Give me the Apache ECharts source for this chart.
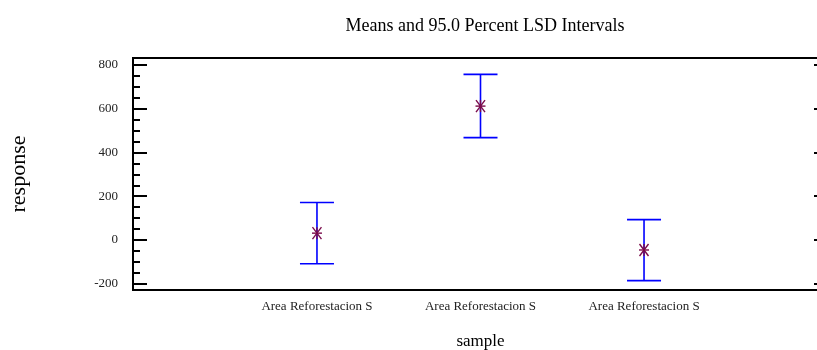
<!DOCTYPE html>
<html>
<head>
<meta charset="utf-8">
<script src="https://cdn.jsdelivr.net/npm/echarts@6/dist/echarts.min.js"></script>
<style>
  html, body { margin: 0; padding: 0; background: #fff; }
  #chart { width: 817px; height: 350px; }
</style>
</head>
<body>
<div id="chart"></div>
<script>
// Means and 95% LSD intervals, one per sample
const categories = ["Area Reforestacion S", "Area Reforestacion S", "Area Reforestacion S"];
const means = [31, 612, -46];
const lower = [-109, 468, -186];
const upper = [171, 757, 93];
const majorTicks = [-200, 0, 200, 400, 600, 800];
const minorTicks = [-200, -150, -100, -50, 0, 50, 100, 150, 200, 250, 300, 350, 400, 450, 500, 550, 600, 650, 700, 750, 800];

const FONT = "Liberation Serif";
const Y_MIN = -229, Y_MAX = 832;
const X_MIN = -0.125, X_MAX = 4.125;

const chart = echarts.init(document.getElementById("chart"), null, { renderer: "canvas" });

const rows = categories.map((c, i) => [i + 1, means[i], lower[i], upper[i]]);

function renderInterval(params, api) {
  const x = api.value(0);
  const top = api.coord([x, api.value(3)]);
  const bot = api.coord([x, api.value(2)]);
  const cap = 17;
  const style = { stroke: "#0000ff", lineWidth: 1.6 };
  return {
    type: "group",
    children: [
      { type: "line", shape: { x1: top[0], y1: top[1], x2: bot[0], y2: bot[1] }, style },
      { type: "line", shape: { x1: top[0] - cap, y1: top[1], x2: top[0] + cap, y2: top[1] }, style },
      { type: "line", shape: { x1: bot[0] - cap, y1: bot[1], x2: bot[0] + cap, y2: bot[1] }, style }
    ]
  };
}

function renderMean(params, api) {
  const p = api.coord([api.value(0), api.value(1)]);
  const style = { stroke: "#7a0a4a", lineWidth: 1.4 };
  const dx = 4.5, dy = 6;
  return {
    type: "group",
    children: [
      { type: "line", shape: { x1: p[0] - dx, y1: p[1] - dy, x2: p[0] + dx, y2: p[1] + dy }, style },
      { type: "line", shape: { x1: p[0] - dx, y1: p[1] + dy, x2: p[0] + dx, y2: p[1] - dy }, style },
      { type: "line", shape: { x1: p[0] - 5, y1: p[1], x2: p[0] + 5, y2: p[1] }, style },
      { type: "line", shape: { x1: p[0], y1: p[1] - dy, x2: p[0], y2: p[1] + dy }, style }
    ]
  };
}

// extra axes that only carry tick marks
function tickAxis(position, values, length) {
  return {
    type: "value",
    min: Y_MIN,
    max: Y_MAX,
    position,
    offset: 0,
    splitLine: { show: false },
    axisLine: { show: false },
    axisLabel: { show: false },
    axisTick: {
      inside: true,
      length,
      customValues: values,
      lineStyle: { color: "#000", width: 2 }
    }
  };
}

chart.setOption({
  animation: false,
  title: {
    text: "Means and 95.0 Percent LSD Intervals",
    left: 480,
    top: 12,
    textAlign: "center",
    textStyle: { fontFamily: FONT, fontSize: 18, fontWeight: "normal", color: "#000" }
  },
  grid: {
    left: 133,
    top: 58,
    width: 695,
    height: 232,
    outerBoundsMode: "none",
    containLabel: false,
    show: true,
    borderColor: "#000",
    borderWidth: 2,
    backgroundColor: "transparent"
  },
  xAxis: {
    type: "value",
    min: X_MIN,
    max: X_MAX,
    name: "sample",
    nameLocation: "middle",
    nameGap: 43,
    nameTextStyle: { fontFamily: FONT, fontSize: 17, color: "#000" },
    splitLine: { show: false },
    axisLine: { show: false },
    axisTick: { show: false },
    axisLabel: {
      customValues: categories.map((c, i) => i + 1),
      formatter: (v) => categories[Math.round(v) - 1] || "",
      fontFamily: FONT,
      fontSize: 13,
      color: "#222",
      margin: 10
    }
  },
  yAxis: [
    {
      type: "value",
      min: Y_MIN,
      max: Y_MAX,
      offset: 0,
      name: "response",
      nameLocation: "middle",
      nameGap: 103,
      nameRotate: 90,
      nameTextStyle: { fontFamily: FONT, fontSize: 22, color: "#000" },
      splitLine: { show: false },
      axisLine: { show: false },
      axisTick: { show: false },
      axisLabel: {
        customValues: majorTicks,
        fontFamily: FONT,
        fontSize: 13,
        color: "#222",
        margin: 15
      }
    },
    tickAxis("left", minorTicks, 7),
    tickAxis("left", majorTicks, 14),
    tickAxis("right", majorTicks, 14)
  ],
  series: [
    {
      type: "custom",
      renderItem: renderInterval,
      data: rows,
      encode: { x: 0, y: [2, 3] },
      z: 2
    },
    {
      type: "custom",
      renderItem: renderMean,
      data: rows,
      encode: { x: 0, y: 1 },
      z: 3
    }
  ]
});
</script>
</body>
</html>
